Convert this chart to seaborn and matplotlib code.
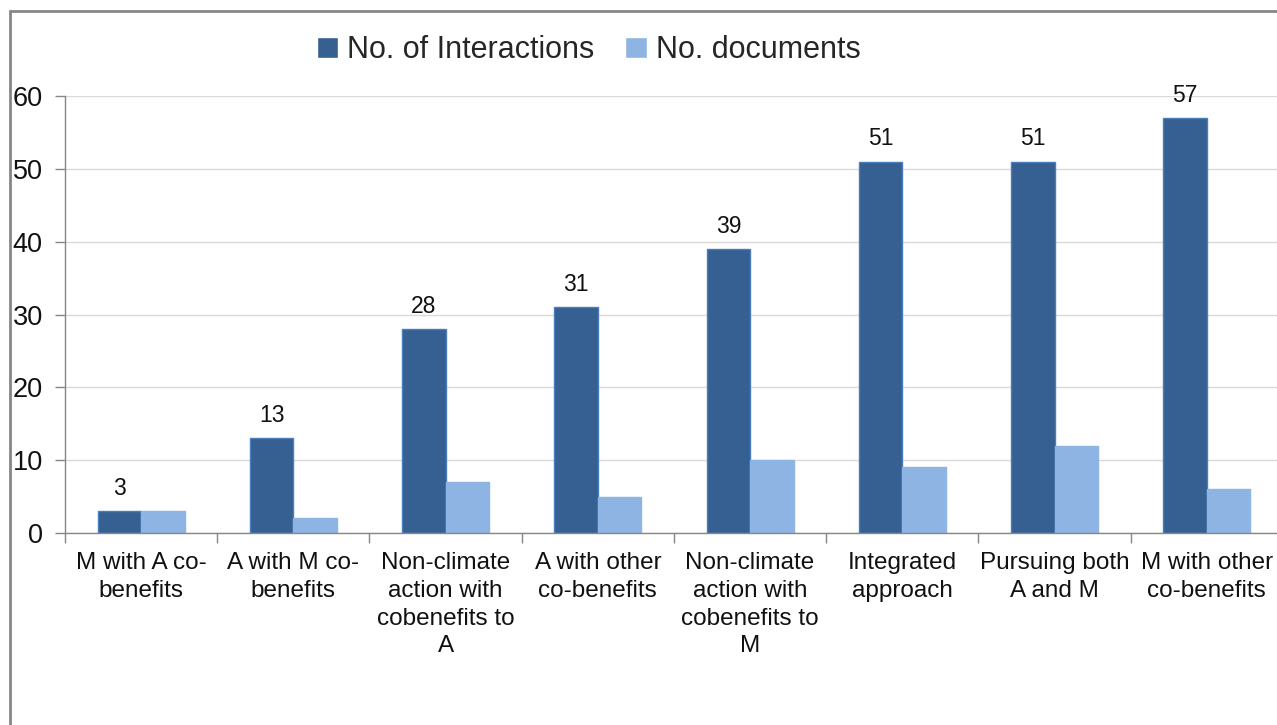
import matplotlib
matplotlib.use('Agg')
import matplotlib.pyplot as plt
import seaborn as sns
import pandas as pd
from matplotlib.patches import Rectangle

categories = [
    "M with A co-\nbenefits",
    "A with M co-\nbenefits",
    "Non-climate\naction with\ncobenefits to\nA",
    "A with other\nco-benefits",
    "Non-climate\naction with\ncobenefits to\nM",
    "Integrated\napproach",
    "Pursuing both\nA and M",
    "M with other\nco-benefits",
]
interactions = [3, 13, 28, 31, 39, 51, 51, 57]
documents = [3, 2, 7, 5, 10, 9, 12, 6]
series = ["No. of Interactions", "No. documents"]
colors = ["#366092", "#8eb4e3"]

df = pd.DataFrame({
    "category": categories * 2,
    "value": interactions + documents,
    "series": [series[0]] * len(categories) + [series[1]] * len(categories),
})

sns.set_theme(style="white")
plt.rcParams['font.family'] = ['Liberation Sans', 'DejaVu Sans']

fig = plt.figure(figsize=(12.77, 7.25), dpi=100)
ax = fig.add_axes([65 / 1277, 192 / 725, 1218 / 1277, 437 / 725])

sns.barplot(data=df, x="category", y="value", hue="series", order=categories,
            hue_order=series, palette=colors, width=0.57, gap=0, ax=ax,
            saturation=1, linewidth=1)
for bar in ax.containers[0]:
    bar.set_edgecolor("#4a7ebb")
for bar in ax.containers[1]:
    bar.set_edgecolor("#8eb4e3")

ax.bar_label(ax.containers[0], padding=8, fontsize=16.5, color="#111111")

ax.set_ylim(0, 60)
ax.set_xlim(-0.5, len(categories) - 0.5)
ax.set_yticks(range(0, 61, 10))
ax.yaxis.grid(True, color="#d9d9d9", linewidth=1)
ax.set_axisbelow(True)
ax.set_xlabel("")
ax.set_ylabel("")

ax.set_xticks(range(len(categories)))
ax.set_xticklabels(categories, fontsize=17.5, linespacing=1.33, color="#111111")
ax.set_xticks([i - 0.5 for i in range(len(categories) + 1)], minor=True)
ax.tick_params(axis="x", which="major", length=0, pad=14)
ax.tick_params(axis="x", which="minor", length=7, width=1, color="#868686", bottom=True)
ax.tick_params(axis="y", length=7, width=1, color="#868686", left=True, labelsize=19.5,
               labelcolor="#111111", pad=9)

for side in ["top", "right"]:
    ax.spines[side].set_visible(False)
for side in ["left", "bottom"]:
    ax.spines[side].set_color("#868686")
    ax.spines[side].set_linewidth(1)

leg = ax.legend(loc="center", bbox_to_anchor=(0.461, 0.931), bbox_transform=fig.transFigure,
                ncol=2, frameon=False, fontsize=22, handlelength=0.7, handleheight=0.7,
                handletextpad=0.3, columnspacing=1.0)

fig.add_artist(Rectangle((10 / 1277, -0.1), 1.2, 1 - 11 / 725 + 0.1, transform=fig.transFigure,
                         fill=False, edgecolor="#868686", linewidth=2))

fig.savefig("out.png", dpi=100)
plt.close(fig)
